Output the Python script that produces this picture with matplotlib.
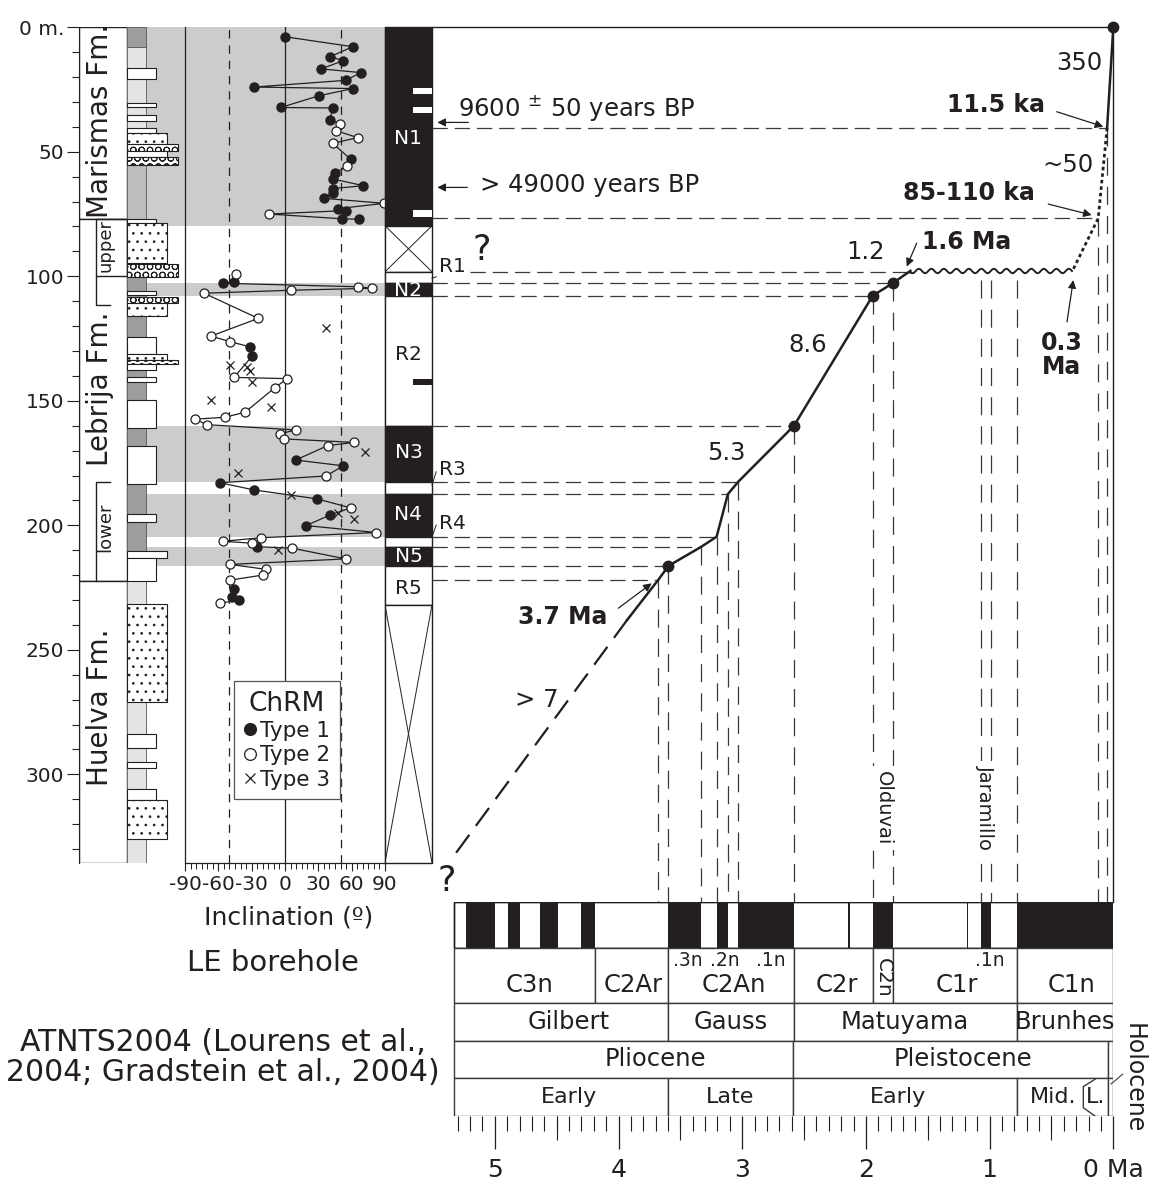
import numpy as np
import matplotlib
matplotlib.use("Agg")
import matplotlib.pyplot as plt
from matplotlib.patches import Rectangle

plt.rcParams["font.family"] = "DejaVu Sans"
plt.rcParams["lines.scale_dashes"] = False
plt.rcParams["hatch.linewidth"] = 0.7
plt.rcParams["text.color"] = "#231f20"

INK = "#231f20"
BAND = "#cccccc"

# ---------------- data ----------------
# formations (depth in m)
fm_names = ["Marismas Fm.", "Lebrija Fm.", "Huelva Fm."]
fm_top = [0.0, 76.9, 222.3]
fm_bot = [76.9, 222.3, 335.5]
fm_label_depth = [37.6, 145.0, 273.0]
sub_names = ["upper", "lower"]
sub_top = [76.9, 182.5]
sub_bot = [100.0, 222.3]
sub_label_depth = [87.5, 200.8]

# lithology column
base_top = [0.0, 7.8, 55.3, 76.9, 222.3]
base_bot = [7.8, 55.3, 76.9, 222.3, 335.5]
base_shade = ["#9d9d9d", "#e4e4e4", "#bdbdbd", "#9d9d9d", "#e4e4e4"]
lith_top = [16.5, 30.6, 35.2, 40.3, 42.6, 46.9, 49.5, 52.2, 76.9, 78.7, 95.2,
            105.8, 108.2, 110.6, 124.3, 131.2, 133.5, 135.3, 140.3, 149.7,
            168.0, 195.6, 210.2, 213.3, 231.7, 283.8, 295.2, 305.9, 310.3]
lith_bot = [20.8, 31.9, 37.5, 42.6, 46.9, 49.5, 52.0, 55.3, 78.5, 94.8, 100.4,
            107.5, 110.6, 115.8, 131.2, 133.5, 135.3, 137.6, 142.3, 161.0,
            183.4, 198.8, 213.3, 222.3, 271.1, 289.5, 297.6, 310.3, 326.0]
lith_kind = ["mud", "mud", "mud", "mud", "sand", "gravel", "sand", "gravel", "mud",
             "sand", "gravel", "mud", "gravel", "sand", "mud", "sand", "gravel", "mud",
             "mud", "mud", "mud", "mud", "silt", "mud", "sand", "mud", "mud", "mud", "sand"]

# ChRM inclinations
inc_depth = [3.8, 7.8, 11.8, 13.4, 16.7, 18.2, 21.3, 24.0, 24.6, 27.5, 32.2, 32.4, 37.2,
             38.8, 41.5, 44.3, 46.6, 53.0, 55.7, 58.6, 60.9, 63.6, 64.8, 66.4, 68.7, 70.7,
             72.8, 73.6, 75.0, 76.9, 77.1,
             99.2, 102.2, 102.8, 104.2, 104.8, 105.6, 106.8, 116.9, 120.6, 124.0, 126.3,
             128.3, 132.0, 135.5, 136.5, 137.9, 140.6, 141.1, 142.6, 144.7, 149.7, 152.5,
             154.6, 156.6, 157.4, 159.6, 161.7, 163.2, 165.3, 166.7, 168.0, 170.4, 173.8,
             176.1, 178.9, 180.2, 182.9, 185.8, 187.8, 189.4, 193.0, 195.2, 195.9, 197.3,
             200.1, 202.9, 205.0, 206.4, 207.2, 208.6, 209.2, 210.0, 213.5, 215.7, 217.7,
             220.0, 222.0, 225.7, 228.9, 230.0, 231.3]
inc_value = [0, 61, 40.5, 52.5, 32.4, 68.4, 54.6, -27.9, 61, 30.6, -3.9, 42.9, 40.5,
             49.5, 45.9, 65.4, 42.9, 59.1, 56.1, 45.0, 42.9, 70.5, 42.9, 42.9, 35.1, 89.4,
             48.0, 54.6, -14.0, 51.0, 67.0,
             -44.1, -45.9, -55.5, 65.4, 78.0, 5.4, -72.9, -24.0, 36.6, -66.6, -49.2,
             -31.5, -29.4, -49.5, -34.5, -31.5, -45.9, 2.1, -30.0, -9.0, -66.6, -12.6,
             -36.0, -54.0, -81.0, -69.9, 9.9, -4.2, -1.2, 62.1, 38.4, 72.0, 9.6,
             52.5, -42.6, 36.9, -58.5, -27.9, 5.1, 29.1, 59.1, 48.0, 40.5, 62.1,
             18.9, 81.9, -21.9, -55.5, -30.0, -25.2, 6.6, -6.0, 54.6, -49.2, -17.1,
             -20.1, -49.2, -45.9, -48.0, -41.0, -58.5]
inc_type = [1, 1, 1, 1, 1, 1, 1, 1, 1, 1, 1, 1, 1,
            2, 2, 2, 2, 1, 2, 1, 1, 1, 1, 1, 1, 2,
            1, 1, 2, 1, 1,
            2, 1, 1, 2, 2, 2, 2, 2, 3, 2, 2,
            1, 1, 3, 3, 3, 2, 2, 3, 2, 3, 3,
            2, 2, 2, 2, 2, 2, 2, 2, 2, 3, 1,
            1, 3, 2, 1, 1, 3, 1, 2, 3, 1, 3,
            1, 2, 2, 2, 2, 1, 2, 3, 2, 2, 2,
            2, 2, 1, 1, 1, 2]
gap_depth = 90.0          # the line is broken across the core gap
gad_incl = 50

# magnetic polarity zones
pol_top = [0.0, 79.7, 98.2, 102.6, 107.8, 160.0, 182.5, 187.5, 204.6, 208.6, 216.3, 232.0]
pol_bot = [79.7, 98.2, 102.6, 107.8, 160.0, 182.5, 187.5, 204.6, 208.6, 216.3, 232.0, 335.5]
pol_kind = ["N", "X", "R", "N", "R", "N", "R", "N", "R", "N", "R", "X"]
pol_in_names = ["N1", "N2", "R2", "N3", "N4", "N5", "R5"]
pol_in_depth = [44.6, 105.6, 131.6, 170.6, 195.5, 212.6, 225.3]
pol_out_names = ["R1", "R3", "R4"]
pol_out_depth = [96.1, 177.5, 199.2]
pol_out_from = [100.8, 183.8, 204.6]
pol_out_to = [100.2, 178.5, 199.9]
short_top = [24.3, 31.9, 73.4, 141.4]
short_bot = [26.8, 34.5, 76.1, 143.7]
short_kind = ["R", "R", "R", "N"]

# age-depth model (age Ma, depth m)
top_age, top_depth = [0.0, 0.05], [0.0, 40.4]
dot_age, dot_depth = [0.05, 0.122, 0.33], [40.4, 76.7, 97.8]
hiatus_age, hiatus_depth = [0.33, 1.64], [97.8, 97.8]
main_age = [1.64, 1.778, 1.945, 2.581, 3.032, 3.116, 3.207, 3.330, 3.596, 3.68, 3.93]
main_depth = [97.8, 102.6, 107.8, 160.0, 182.5, 187.5, 204.6, 208.6, 216.3, 222.0, 238.0]
extra_age, extra_depth = [3.93, 5.32], [238.0, 332.0]
tie_age = [0.0, 1.778, 1.945, 2.581, 3.596]
tie_depth = [0.0, 102.6, 107.8, 160.0, 216.3]

hl_depth = [40.4, 76.7, 98.2, 102.6, 107.8, 160.0, 182.5, 187.5, 204.6, 208.6, 216.3, 222.0]
hl_end = [0.05, 0.122, 1.66, 1.778, 1.945, 2.581, 3.032, 3.116, 3.207, 3.330, 3.596, 3.68]
vl_age = [3.68, 3.596, 3.330, 3.207, 3.116, 3.032, 2.581, 1.945, 1.778, 1.072, 0.988, 0.781, 0.122, 0.05]
vl_top = [222.0, 216.3, 208.6, 204.6, 187.5, 182.5, 160.0, 107.8, 102.6, 101.5, 101.5, 101.5, 76.7, 40.4]

# ATNTS2004
gpts_old = [0.781, 1.072, 1.185, 1.945, 2.148, 3.032, 3.207, 3.596, 4.300, 4.631, 4.896, 5.235]
gpts_young = [0.0, 0.988, 1.173, 1.778, 2.128, 2.581, 3.116, 3.330, 4.187, 4.493, 4.799, 4.997]
gpts_base = 5.332
chron_bounds = [5.332, 4.187, 3.596, 2.581, 1.945, 1.778, 0.781, 0.0]
chron_names = ["C3n", "C2Ar", "C2An", "C2r", "", "C1r", "C1n"]
chron_pos = [4.72, 3.885, 3.07, 2.236, 1.86, 1.266, 0.336]
sub_chron = [".3n", ".2n", ".1n", ".1n"]
sub_chron_pos = [3.436, 3.139, 2.77, 0.997]
polchron_bounds = [5.332, 3.596, 2.581, 0.781, 0.0]
polchron_names = ["Gilbert", "Gauss", "Matuyama", "Brunhes"]
polchron_pos = [4.406, 3.09, 1.684, 0.39]
epoch_bounds = [5.332, 2.588, 0.04, 0.0]
epoch_names = ["Pliocene", "Pleistocene", ""]
epoch_pos = [3.705, 1.218, 0.02]
stage_bounds = [5.332, 3.600, 2.588, 0.781, 0.04, 0.0]
stage_names = ["Early", "Late", "Early", "Mid.", ""]
stage_pos = [4.40, 3.10, 1.74, 0.485, 0.02]

# ---------------- layout (pixels) ----------------
W, H = 1152, 1195
Y_TOP, PX_PER_M = 27.3, 2.49
X_ZERO, PX_PER_MA = 1113.3, 123.7
Y_COL_BOT, Y_GPTS_TOP, Y_GPTS_BOT = 862.7, 901.7, 1116.0
ROW_H = [46, 55, 38, 37.6, 37.7]
row_edge = np.concatenate([[0], np.cumsum(ROW_H)])

fig = plt.figure(figsize=(W / 100, H / 100), dpi=100)


def px_axes(x0, y0, x1, y1):
    return fig.add_axes([x0 / W, 1 - y1 / H, (x1 - x0) / W, (y1 - y0) / H])


def depth_at(y):
    return (y - Y_TOP) / PX_PER_M


def age_at(x):
    return (X_ZERO - x) / PX_PER_MA


D_BOT = depth_at(Y_COL_BOT)

# ---- formation column with depth scale
ax_fm = px_axes(79.3, Y_TOP, 127, Y_COL_BOT)
ax_fm.set_xlim(0, 1)
ax_fm.set_ylim(D_BOT, 0)
for s in ["top", "right", "bottom"]:
    ax_fm.spines[s].set_visible(False)
ax_fm.spines["left"].set_color(INK)
ax_fm.set_xticks([])
ax_fm.set_yticks(np.arange(0, 301, 50), ["0 m.", "50", "100", "150", "200", "250", "300"])
ax_fm.set_yticks(np.arange(0, 331, 10), minor=True)
ax_fm.tick_params(axis="y", which="major", length=9, width=0.8, labelsize=14.5, colors=INK, pad=2)
ax_fm.tick_params(axis="y", which="minor", length=5, width=0.8, colors=INK)
for t, b, name, d in zip(fm_top, fm_bot, fm_names, fm_label_depth):
    ax_fm.add_patch(Rectangle((0, t), 1, b - t, fc="white", ec=INK, lw=1))
    ax_fm.text(0.43, d, name, rotation=90, ha="center", va="center", fontsize=20)
for t, b, name, d in zip(sub_top, sub_bot, sub_names, sub_label_depth):
    ax_fm.text(0.54, d, name, rotation=90, ha="center", va="center", fontsize=13)
ax_fm.add_patch(Rectangle((0.35, sub_top[0]), 0.65, sub_bot[0] - sub_top[0], fc="none", ec=INK, lw=1))
ax_fm.plot([0.35, 0.35, 0.65], [sub_bot[0], 111.5, 111.5], color=INK, lw=1)
ax_fm.plot([0.65, 0.35, 0.35], [sub_top[1], sub_top[1], sub_bot[1]], color=INK, lw=1)

# ---- lithology column
LITH_W = {"mud": 1.53, "silt": 2.1, "sand": 2.1, "gravel": 2.7}
LITH_H = {"mud": None, "silt": None, "sand": "..", "gravel": "OO"}
ax_li = px_axes(127, Y_TOP, 185, Y_COL_BOT)
ax_li.set_xlim(0, 3.05)
ax_li.set_ylim(D_BOT, 0)
ax_li.axis("off")
for t, b, k in zip(pol_top, pol_bot, pol_kind):
    if k == "N":
        ax_li.axhspan(t, b, xmin=1 / 3.05, xmax=1, color=BAND, lw=0, zorder=0)
for t, b, c in zip(base_top, base_bot, base_shade):
    ax_li.add_patch(Rectangle((0, t), 1, b - t, fc=c, ec="#555555", lw=0.6, zorder=1))
for t, b, k in zip(lith_top, lith_bot, lith_kind):
    ax_li.add_patch(Rectangle((0, t), LITH_W[k], b - t, fc="white", ec=INK, lw=0.8,
                              hatch=LITH_H[k], zorder=2))

# ---- inclination panel
ax_in = px_axes(185, Y_TOP, 385, Y_COL_BOT)
ax_in.set_xlim(-90, 90)
ax_in.set_ylim(D_BOT, 0)
ax_in.spines["top"].set_visible(False)
for s in ["left", "right", "bottom"]:
    ax_in.spines[s].set_color(INK)
    ax_in.spines[s].set_linewidth(0.9)
for t, b, k in zip(pol_top, pol_bot, pol_kind):
    if k == "N":
        ax_in.axhspan(t, b, color=BAND, lw=0, zorder=0)
ax_in.axvline(0, color=INK, lw=0.9, zorder=1)
for g in (-gad_incl, gad_incl):
    ax_in.axvline(g, color=INK, lw=0.9, ls=(0, (6, 5)), zorder=1)
ax_in.set_yticks([])
ax_in.set_xticks([-90, -60, -30, 0, 30, 60, 90], ["-90", "-60", "-30", "0", "30", "60", "90"])
ax_in.set_xticks(np.arange(-90, 91, 5), minor=True)
ax_in.tick_params(axis="x", which="major", length=6, width=0.8, labelsize=14.5, colors=INK, pad=3)
ax_in.tick_params(axis="x", which="minor", length=4, width=0.7, colors=INK)

dep = np.array(inc_depth)
val = np.array(inc_value)
typ = np.array(inc_type)
for sel in (dep < gap_depth, dep > gap_depth):
    m = sel & (typ != 3)
    order = np.argsort(dep[m])
    ax_in.plot(val[m][order], dep[m][order], color=INK, lw=0.9, zorder=2)
h1, = ax_in.plot(val[typ == 1], dep[typ == 1], "o", ms=6.5, mfc=INK, mec=INK, zorder=3,
                 clip_on=False, label="Type 1")
h2, = ax_in.plot(val[typ == 2], dep[typ == 2], "o", ms=6.5, mfc="white", mec=INK, mew=0.9,
                 zorder=3, clip_on=False, label="Type 2")
h3, = ax_in.plot(val[typ == 3], dep[typ == 3], "x", ms=6, mec=INK, mew=0.9, zorder=3,
                 label="Type 3")
leg = ax_in.legend(handles=[h1, h2, h3], title="ChRM", loc="lower left",
                   bbox_to_anchor=(0.245, 0.076), fontsize=15.5, title_fontsize=19,
                   fancybox=False, edgecolor="#555555", framealpha=1, handlelength=0.6,
                   handletextpad=0.15, borderpad=0.45, labelspacing=0.2, borderaxespad=0,
                   markerscale=1.3)
leg.get_frame().set_linewidth(0.9)

# ---- polarity column
ax_po = px_axes(385, Y_TOP, 432, Y_COL_BOT)
ax_po.set_xlim(0, 1)
ax_po.set_ylim(D_BOT, 0)
ax_po.axis("off")
n2_box = None
for t, b, k in zip(pol_top, pol_bot, pol_kind):
    r = ax_po.add_patch(Rectangle((0, t), 1, b - t, fc=INK if k == "N" else "white", ec=INK,
                                  lw=1, clip_on=False))
    if k == "N" and t == 102.6:
        n2_box = r
    if k == "X":
        ax_po.plot([0, 1], [t, b], color=INK, lw=0.7)
        ax_po.plot([0, 1], [b, t], color=INK, lw=0.7)
for t, b, k in zip(short_top, short_bot, short_kind):
    ax_po.add_patch(Rectangle((0.59, t), 0.41, b - t, fc="white" if k == "R" else INK, lw=0))
for name, d in zip(pol_in_names, pol_in_depth):
    txt = ax_po.text(0.5, d, name, ha="center", va="center", fontsize=14.5,
                     color="white" if name[0] == "N" else INK)
    if name == "N2":
        txt.set_clip_path(n2_box)
tr = ax_po.get_yaxis_transform()
for name, d, a, b in zip(pol_out_names, pol_out_depth, pol_out_from, pol_out_to):
    ax_po.text(1.14, d, name, ha="left", va="center", fontsize=14.5, transform=tr)
    ax_po.plot([1.0, 1.09], [a, b], color=INK, lw=0.7, transform=tr, clip_on=False)

# ---- age-depth correlation panel
ax_co = px_axes(432, Y_TOP, X_ZERO, Y_GPTS_TOP)
ax_co.set_xlim(age_at(432), 0)
ax_co.set_ylim(depth_at(Y_GPTS_TOP), 0)
ax_co.patch.set_visible(False)
ax_co.set_xticks([])
ax_co.set_yticks([])
for s in ["left", "bottom"]:
    ax_co.spines[s].set_visible(False)
for s in ["top", "right"]:
    ax_co.spines[s].set_color(INK)
    ax_co.spines[s].set_linewidth(1)
hl_start = [age_at(432)] * len(hl_depth)
hl_start[2] = age_at(470)
ax_co.hlines(hl_depth, hl_start, hl_end, colors="#3a3a3a", lw=0.9, linestyles=(0, (11, 5)))
ax_co.vlines(vl_age, vl_top, depth_at(Y_GPTS_TOP), colors="#3a3a3a", lw=0.9,
             linestyles=(0, (13, 8)))
ax_co.plot(top_age, top_depth, color=INK, lw=1.8, clip_on=False)
ax_co.plot(dot_age, dot_depth, color=INK, lw=2.0, ls=(0, (2.5, 2.2)))
wave, = ax_co.plot(hiatus_age, hiatus_depth, color=INK, lw=1.4)
wave.set_sketch_params(scale=2.2, length=12.5, randomness=1)
ax_co.plot(main_age, main_depth, color=INK, lw=1.8)
ax_co.plot(extra_age, extra_depth, color=INK, lw=1.6, ls=(0, (16, 8)))
ax_co.plot(tie_age, tie_depth, "o", ms=7.5, color=INK, clip_on=False, zorder=5)

arrow = dict(arrowstyle="-|>", color=INK, lw=0.9, mutation_scale=12, shrinkA=0, shrinkB=0)
ax_co.text(age_at(458), 32.4, "9600 $^{\\pm}$ 50 years BP", ha="left", va="center", fontsize=17.5)
ax_co.annotate("", xy=(age_at(437.3), 38.2), xytext=(age_at(468.3), 38.2), arrowprops=arrow)
ax_co.text(age_at(480), 63.3, "> 49000 years BP", ha="left", va="center", fontsize=17.5)
ax_co.annotate("", xy=(age_at(437.3), 64.3), xytext=(age_at(467.3), 64.3), arrowprops=arrow)
ax_co.text(age_at(481.7), 89.4, "?", ha="center", va="center", fontsize=25)
ax_co.text(age_at(1079), 14.5, "350", ha="center", va="center", fontsize=17.5)
ax_co.text(age_at(996), 31.2, "11.5 ka", ha="center", va="center", fontsize=17, weight="bold")
ax_co.annotate("", xy=(age_at(1103.3), 39.9), xytext=(age_at(1056.7), 33.9), arrowprops=arrow)
ax_co.text(age_at(1068), 55.3, "~50", ha="center", va="center", fontsize=17.5)
ax_co.text(age_at(969), 66.7, "85-110 ka", ha="center", va="center", fontsize=17, weight="bold")
ax_co.annotate("", xy=(age_at(1091.7), 75.4), xytext=(age_at(1048.3), 71.0), arrowprops=arrow)
ax_co.text(age_at(966.7), 86.1, "1.6 Ma", ha="center", va="center", fontsize=17, weight="bold")
ax_co.annotate("", xy=(age_at(906.7), 96.1), xytext=(age_at(916.7), 86.7), arrowprops=arrow)
ax_co.text(age_at(866), 90.1, "1.2", ha="center", va="center", fontsize=17.5)
ax_co.text(age_at(1062), 131.6, "0.3\nMa", ha="center", va="center", fontsize=17,
           weight="bold", linespacing=1.0)
ax_co.annotate("", xy=(age_at(1073.3), 101.5), xytext=(age_at(1067), 118.3), arrowprops=arrow)
ax_co.text(age_at(808), 127.6, "8.6", ha="center", va="center", fontsize=17.5)
ax_co.text(age_at(726), 171.1, "5.3", ha="center", va="center", fontsize=17.5)
ax_co.text(age_at(562.5), 236.7, "3.7 Ma", ha="center", va="center", fontsize=17, weight="bold")
ax_co.annotate("", xy=(age_at(651.7), 223.3), xytext=(age_at(618.3), 233.3), arrowprops=arrow)
ax_co.text(age_at(537), 270.2, "> 7", ha="center", va="center", fontsize=17.5)
ax_co.text(age_at(447), 343.0, "?", ha="center", va="center", fontsize=25, clip_on=False)
for name, a in (("Olduvai", 1.86), ("Jaramillo", 1.03)):
    ax_co.text(a, 313.5, name, rotation=270, ha="center", va="center", fontsize=14,
               bbox=dict(fc="white", ec="none", pad=3.5))

# ---- ATNTS2004 time scale
ax_gt = px_axes(432, Y_GPTS_TOP, X_ZERO, Y_GPTS_BOT)
ax_gt.set_xlim(age_at(432), 0)
ax_gt.set_ylim(row_edge[-1], 0)
ax_gt.patch.set_visible(False)
for s in ax_gt.spines.values():
    s.set_visible(False)
ax_gt.set_yticks([])
GRID = "#3a3a3a"
ax_gt.add_patch(Rectangle((0, 0), gpts_base, ROW_H[0], fc="white", ec=INK, lw=1))
ax_gt.broken_barh([(y, o - y) for y, o in zip(gpts_young, gpts_old)], (0, ROW_H[0]),
                  facecolors=INK, lw=0)
ax_gt.add_patch(Rectangle((0, 0), gpts_base, ROW_H[0], fc="none", ec=INK, lw=1))
rows = [(chron_bounds, chron_names, chron_pos, 1, 0.68),
        (polchron_bounds, polchron_names, polchron_pos, 2, 0.5),
        (epoch_bounds, epoch_names, epoch_pos, 3, 0.5),
        (stage_bounds, stage_names, stage_pos, 4, 0.5)]
for bounds, names, pos, r, frac in rows:
    y0, h = row_edge[r], ROW_H[r]
    for old, young in zip(bounds[:-1], bounds[1:]):
        ax_gt.add_patch(Rectangle((young, y0), old - young, h, fc="white", ec=GRID, lw=1))
    fs = 16 if r == 4 else 17.5
    for name, p in zip(names, pos):
        if name:
            ax_gt.text(p, y0 + frac * h, name, ha="center", va="center", fontsize=fs)
ax_gt.text(chron_pos[4], row_edge[1] + 0.55 * ROW_H[1], "C2n", rotation=270,
           ha="center", va="center", fontsize=14.5)
for name, p in zip(sub_chron, sub_chron_pos):
    ax_gt.text(p, row_edge[1] + 0.24 * ROW_H[1], name, ha="center", va="center", fontsize=13.5)
# Late Pleistocene box
y0, h = row_edge[4], ROW_H[4]
ax_gt.plot([0.148, 0.2425, 0.2425, 0.148], [y0 + 1, y0 + 0.22 * h, y0 + 0.78 * h, y0 + h],
           color=GRID, lw=1)
ax_gt.text(0.142, y0 + 0.5 * h, "L.", ha="center", va="center", fontsize=16)
ax_gt.plot([0.018, -0.076], [y0 + 0.15 * h, y0 - 0.11 * h], color=GRID, lw=0.8, clip_on=False)
ax_gt.text(age_at(1134), row_edge[4], "Holocene", rotation=270, ha="center",
           va="center", fontsize=17, clip_on=False)

ax_gt.set_xticks([5, 4, 3, 2, 1, 0], ["5", "4", "3", "2", "1", "0 Ma"])
ax_gt.set_xticks(np.round(np.arange(0, 5.31, 0.1), 1), minor=True)
ax_gt.tick_params(axis="x", which="major", length=24, width=0.9, labelsize=18, colors=INK, pad=6)
ax_gt.tick_params(axis="x", which="minor", length=11, width=0.8, colors=INK)
sec = ax_gt.secondary_xaxis("bottom")
sec.set_xticks([0.5, 1.5, 2.5, 3.5, 4.5])
sec.tick_params(axis="x", length=17, width=0.8, colors=INK, labelbottom=False)
sec.spines["bottom"].set_visible(False)

# ---- captions
fig.text(289 / W, 1 - 917.7 / H, "Inclination (º)", ha="center", va="center", fontsize=18)
fig.text(273 / W, 1 - 962.7 / H, "LE borehole", ha="center", va="center", fontsize=21)
fig.text(222.5 / W, 1 - 1057.8 / H, "ATNTS2004 (Lourens et al.,\n2004; Gradstein et al., 2004)",
         ha="center", va="center", fontsize=21.5, linespacing=1.05)

fig.savefig("out.png", dpi=100)
